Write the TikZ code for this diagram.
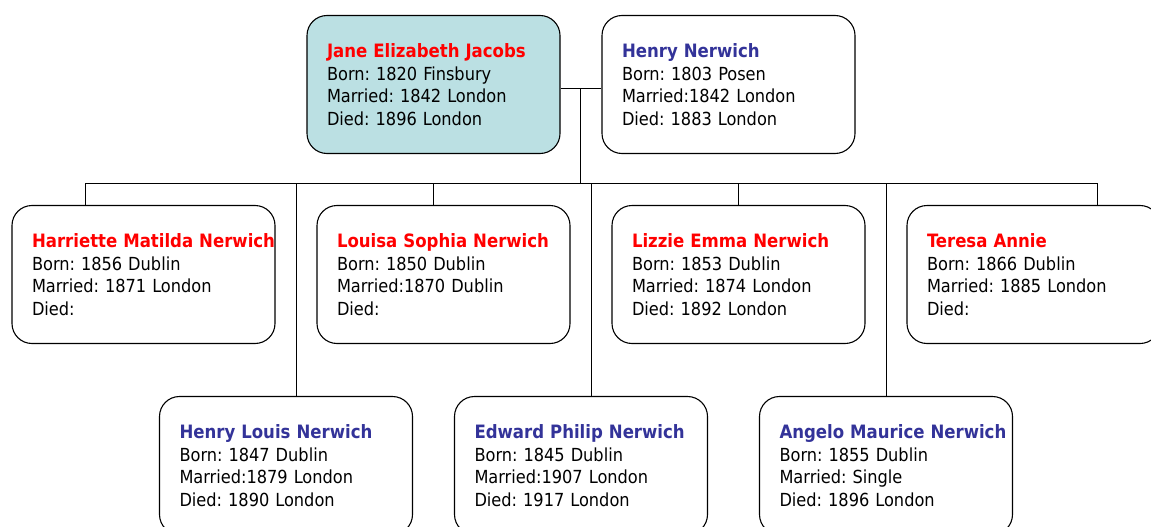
\documentclass[tikz,border=0pt]{standalone}
\usepackage{fontspec}
\setmainfont{DejaVu Sans Condensed}
\usepackage{tikz}
\usetikzlibrary{calc}
\definecolor{girlred}{RGB}{255,0,0}
\definecolor{boyblue}{RGB}{51,51,153}
\definecolor{wifefill}{RGB}{187,224,227}
\newcommand{\girl}[1]{\mbox{\textcolor{girlred}{\fontsize{18.4}{22.5}\selectfont\bfseries #1}}}
\newcommand{\boy}[1]{\mbox{\textcolor{boyblue}{\fontsize{18.4}{22.5}\selectfont\bfseries #1}}}
\frenchspacing

\begin{document}
\begin{tikzpicture}[x=1pt, y=-1pt,
    person/.style={draw, rounded corners=20pt, minimum width=253pt, minimum height=138pt,
        text width=213pt, inner xsep=20pt, inner ysep=0pt, align=left,
        font=\fontsize{18}{22.5}\selectfont, line width=1.1pt},
    link/.style={line width=1pt}]
    \useasboundingbox (0,0) rectangle (1151,527);

    % parents
    \node[person, fill=wifefill] (jane) at (433.5, 84.5) {\girl{Jane Elizabeth Jacobs}\\Born: 1820 Finsbury\\Married: 1842 London\\Died: 1896 London};
    \node[person, fill=white] (henry) at (728.5, 84.5) {\boy{Henry Nerwich}\\Born: 1803 Posen\\Married:1842 London\\Died: 1883 London};

    % daughters
    \node[person, minimum width=263pt, text width=223pt] (harriette) at (143.5, 274.5) {\girl{Harriette Matilda Nerwich}\\Born: 1856 Dublin\\Married: 1871 London\\Died:};
    \node[person] (louisa) at (443.5, 274.5) {\girl{Louisa Sophia Nerwich}\\Born: 1850 Dublin\\Married:1870 Dublin\\Died:};
    \node[person] (lizzie) at (738.5, 274.5) {\girl{Lizzie Emma Nerwich}\\Born: 1853 Dublin\\Married: 1874 London\\Died: 1892 London};
    \node[person] (teresa) at (1033.5, 274.5) {\girl{Teresa Annie}\\Born: 1866 Dublin\\Married: 1885 London\\Died:};

    % sons
    \node[person] (henrylouis) at (286, 465.5) {\boy{Henry Louis Nerwich}\\Born: 1847 Dublin\\Married:1879 London\\Died: 1890 London};
    \node[person] (edward) at (581, 465.5) {\boy{Edward Philip Nerwich}\\Born: 1845 Dublin\\Married:1907 London\\Died: 1917 London};
    \node[person] (angelo) at (886, 465.5) {\boy{Angelo Maurice Nerwich}\\Born: 1855 Dublin\\Married: Single\\Died: 1896 London};

    % marriage and family bus
    \draw[link] ([yshift=-3.5pt]jane.east) -- ([yshift=-3.5pt]henry.west);
    \coordinate (wed) at ($(jane.east)!0.5!(henry.west) + (-1,3.5)$);
    \coordinate (bus) at ($(wed) + (0,95)$);
    \draw[link] (wed) -- (bus);

    \draw[link] ([xshift=-58.5pt]harriette.north) |- (bus);
    \draw[link] ([xshift=-10.5pt]louisa.north) |- (bus);
    \draw[link] (lizzie.north) |- (bus);
    \draw[link] ([xshift=63.5pt]teresa.north) |- (bus);
    \draw[link] ([xshift=10pt]henrylouis.north) |- (bus);
    \draw[link] ([xshift=10pt]edward.north) |- (bus);
    \draw[link] (angelo.north) |- (bus);

\end{tikzpicture}
\end{document}
